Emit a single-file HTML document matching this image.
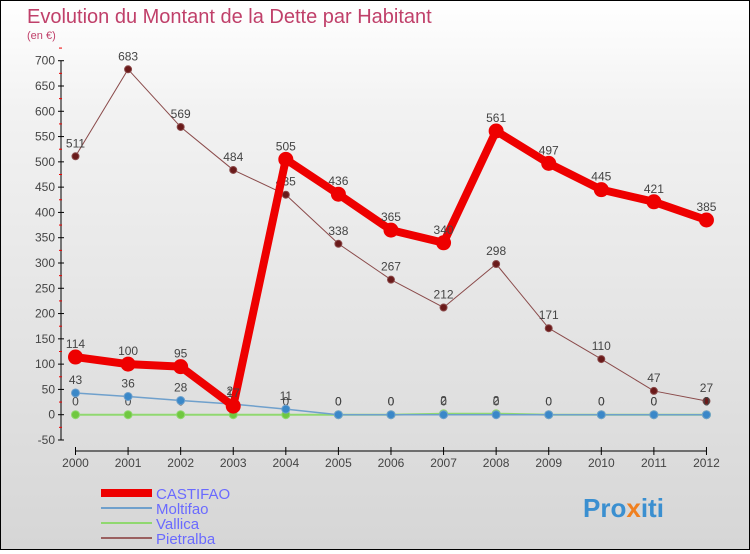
<!DOCTYPE html>
<html><head><meta charset="utf-8"><style>
body{margin:0;width:750px;height:550px;overflow:hidden;font-family:"Liberation Sans",sans-serif}
#wrap{position:relative;width:748px;height:548px;border:1px solid #000;background:linear-gradient(#ffffff,#f2f2f2 20%,#d6d6d6)}
</style></head><body>
<div id="wrap">
<svg id="chart" width="748" height="548" font-family="Liberation Sans, sans-serif">
<text x="26" y="22" font-size="20" fill="#c0406a">Evolution du Montant de la Dette par Habitant</text>
<text x="26" y="38" font-size="11" fill="#c0406a">(en €)</text>
<g id="axes"></g><g id="series"></g>
<g>
<line x1="100" y1="492" x2="151" y2="492" stroke="#e00" stroke-width="8"/>
<text x="155" y="498" font-size="15" fill="#6a6aff">CASTIFAO</text>
<line x1="100" y1="507" x2="151" y2="507" stroke="#6fa0cc" stroke-width="2"/>
<text x="155" y="513" font-size="15" fill="#6a6aff">Moltifao</text>
<line x1="100" y1="522" x2="151" y2="522" stroke="#90d870" stroke-width="2"/>
<text x="155" y="528" font-size="15" fill="#6a6aff">Vallica</text>
<line x1="100" y1="537" x2="151" y2="537" stroke="#9a6060" stroke-width="2"/>
<text x="155" y="543" font-size="15" fill="#6a6aff">Pietralba</text>
</g>
<text x="582" y="516" font-size="26" font-weight="bold" fill="#3a8fd0">Pro<tspan fill="#f08020">x</tspan>iti</text>
</svg></div>
<script>
const years=["2000","2001","2002","2003","2004","2005","2006","2007","2008","2009","2010","2011","2012"];
const yTicks=[-50,0,50,100,150,200,250,300,350,400,450,500,550,600,650,700];
const castifao=[114,100,95,17,505,436,365,340,561,497,445,421,385];
const moltifao=[43,36,28,21,11,0,0,0,0,0,0,0,0];
const vallica=[0,0,0,0,0,0,0,2,2,0,0,0,0];
const pietralba=[511,683,569,484,435,338,267,212,298,171,110,47,27];
const NS="http://www.w3.org/2000/svg";
function xS(i){return 74.5+i*52.58;}
function yS(v){return 413.7-v*0.5057;}
function mk(t,a,p){const e=document.createElementNS(NS,t);for(const k in a)e.setAttribute(k,a[k]);p.appendChild(e);return e;}
const ax=document.getElementById('axes'),sg=document.getElementById('series');
const yl=mk('line',{x1:60,y1:yS(700),x2:60,y2:yS(-50),stroke:'#000','stroke-width':1},ax);


yTicks.forEach(v=>{
 mk('line',{x1:57,x2:63,y1:yS(v),y2:yS(v),stroke:'#000'},ax);
 mk('line',{x1:58,x2:61,y1:yS(v+25),y2:yS(v+25),stroke:'#e00'},ax);
 const t=mk('text',{x:54,y:yS(v)+4,'font-size':12,fill:'#444','text-anchor':'end'},ax);
 t.textContent=v;
 
 
});
const xl=mk('line',{x1:xS(0),y1:450,x2:xS(12),y2:450,stroke:'#000'},ax);


years.forEach((y,i)=>{
 mk('line',{x1:xS(i),x2:xS(i),y1:446,y2:454,stroke:'#000'},ax);
 const t=mk('text',{x:xS(i),y:466,'font-size':12,fill:'#444','text-anchor':'middle'},ax);
 t.textContent=y;
 
 
});
function series(name,data,color,w,r,fill){
 const g=mk('g',{},sg);
 
 
 mk('polyline',{points:data.map((v,i)=>xS(i)+','+yS(v)).join(' '),fill:'none',stroke:color,'stroke-width':w,'stroke-linejoin':'round'},g);
 data.forEach((v,i)=>{
  const c=mk('circle',{cx:xS(i),cy:yS(v),r:r,fill:fill,stroke:color,'stroke-width':1},g);
  
  
  const t=mk('text',{x:xS(i),y:yS(v)-9,'font-size':12,fill:'#444','text-anchor':'middle'},g);
  t.textContent=v;
  
  
 });
}
series('pietralba',pietralba,'#8a4a4a',1,3.5,'#6a1a1a');
series('vallica',vallica,'#90d870',2,4,'#70c840');
series('moltifao',moltifao,'#6fa0cc',1.5,4,'#3a88c8');
series('castifao',castifao,'#e00',8,7,'#e00');
</script>
</body></html>
